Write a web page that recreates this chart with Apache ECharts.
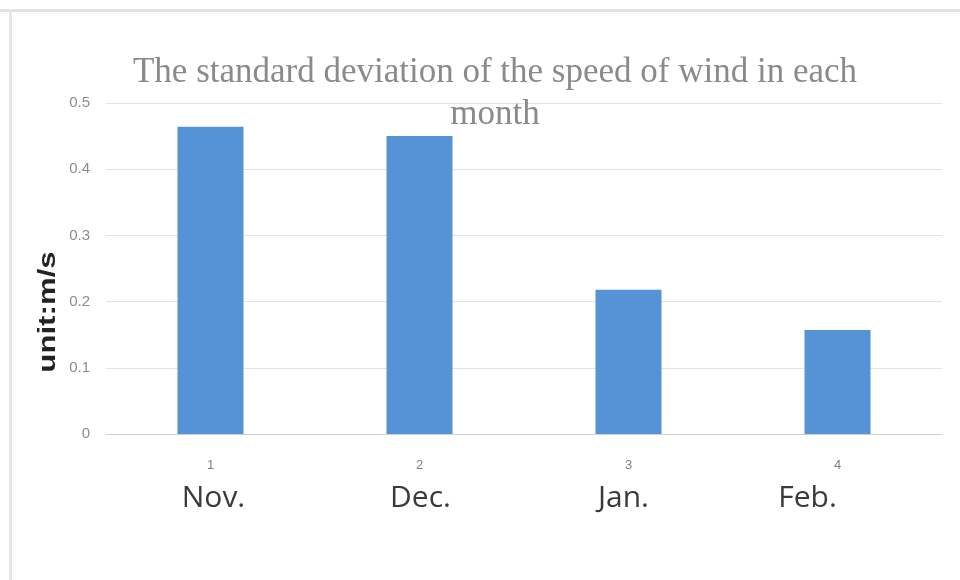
<!DOCTYPE html>
<html>
<head>
<meta charset="utf-8">
<script src="https://cdn.jsdelivr.net/npm/echarts@6/dist/echarts.min.js"></script>
<style>
html,body{margin:0;padding:0;background:#fff;}
#chart{width:960px;height:580px;}
</style>
</head>
<body>
<div id="chart"></div>
<script>
var ticks = ['1', '2', '3', '4'];
var months = ['Nov.', 'Dec.', 'Jan.', 'Feb.'];
var stdDev = [0.464, 0.450, 0.218, 0.157];
var yTicks = [0, 0.1, 0.2, 0.3, 0.4, 0.5];
var titleText = 'The standard deviation of the speed of wind in each\nmonth';
var yName = 'unit:m/s';

var chart = echarts.init(document.getElementById('chart'), null, {renderer: 'canvas'});

var monthShift = [[0, 0, 0, 6], [0, 0, 0, 2], [0, 10, 0, 0], [0, 60, 0, 0]];
var rich = {
  n: {fontFamily: 'Liberation Sans', fontSize: 13, color: '#7f7f7f', lineHeight: 22}
};
months.forEach(function (m, i) {
  rich['m' + i] = {fontFamily: 'Open Sans', fontSize: 30, color: '#3a3a3a', lineHeight: 44, padding: monthShift[i]};
});

chart.setOption({
  animation: false,
  backgroundColor: '#ffffff',
  title: {
    text: titleText,
    left: 490,
    top: 47,
    textAlign: 'center',
    textStyle: {
      fontFamily: 'Liberation Serif',
      fontWeight: 'normal',
      fontSize: 35,
      lineHeight: 42,
      color: '#8a8a8a'
    }
  },
  grid: {left: 106, right: 18, top: 103, bottom: 146, containLabel: false},
  xAxis: {
    type: 'category',
    data: ticks,
    axisLine: {show: true, lineStyle: {color: '#d0d0d0', width: 1}},
    axisTick: {show: false},
    axisLabel: {
      margin: 20,
      formatter: function (v, i) {
        return '{n|' + v + '}\n{m' + i + '|' + months[i] + '}';
      },
      rich: rich
    }
  },
  yAxis: {
    type: 'value',
    min: yTicks[0],
    max: yTicks[yTicks.length - 1],
    interval: 0.1,
    axisLine: {show: false},
    axisTick: {show: false},
    splitLine: {lineStyle: {color: '#e3e3e3', width: 1}},
    axisLabel: {
      margin: 16,
      fontFamily: 'Liberation Sans',
      fontSize: 15,
      color: '#8c8c8c',
      formatter: function (v) { return String(Math.round(v * 10) / 10); }
    }
  },
  series: [{
    type: 'bar',
    data: stdDev,
    barWidth: 66,
    itemStyle: {color: '#5593d6'}
  }],
  graphic: [
    {type: 'rect', shape: {x: 0, y: 9, width: 960, height: 3}, style: {fill: '#e2e2e2'}, silent: true},
    {type: 'rect', shape: {x: 9, y: 9, width: 3, height: 571}, style: {fill: '#e6e6e6'}, silent: true},
    {
      type: 'text',
      x: 48, y: 312,
      rotation: Math.PI / 2,
      scaleX: 1.3,
      style: {
        text: yName,
        fontFamily: 'Liberation Sans',
        fontWeight: 'bold',
        fontSize: 24,
        fill: '#222222',
        align: 'center',
        verticalAlign: 'middle'
      }
    }
  ]
});
</script>
</body>
</html>
